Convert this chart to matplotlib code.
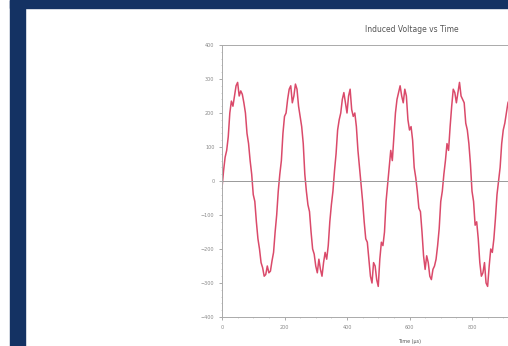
import matplotlib.pyplot as plt
from matplotlib.patches import Rectangle

# sample time (every 5 units) and the induced voltage
t_step = 5
voltage = [-20, 30, 70, 90, 130, 200, 235, 220, 250, 280, 290, 250, 265, 255, 230, 200, 140, 110, 60,
           20, -40, -60, -120, -170, -200, -240, -255, -280, -275, -250, -270, -265, -235, -210, -150, -100, -30, 20, 60,
           140, 190, 200, 240, 270, 280, 230, 250, 285, 270, 220, 190, 160, 110, 20, -30, -70, -90, -150, -200,
           -215, -250, -270, -230, -260, -280, -240, -210, -230, -190, -120, -70, -30, 30, 80, 150, 180, 200, 240, 260,
           230, 200, 250, 270, 210, 190, 200, 160, 90, 40, -10, -60, -120, -170, -180, -230, -280, -300, -240, -250,
           -290, -310, -230, -180, -190, -150, -60, -10, 40, 90, 60, 130, 200, 240, 260, 280, 250, 230, 270, 250,
           180, 150, 160, 120, 40, 10, -30, -80, -90, -150, -220, -260, -220, -240, -280, -290, -260, -250, -230, -190,
           -140, -60, -30, 20, 60, 110, 90, 160, 220, 270, 260, 230, 260, 290, 250, 240, 230, 170, 150, 110,
           50, -30, -60, -130, -120, -170, -240, -280, -270, -240, -300, -310, -250, -200, -210, -170, -110, -40, 0, 40,
           110, 150, 170, 200, 230, 240]
time = [i * t_step for i in range(len(voltage))]

x_ticks = [0, 200, 400, 600, 800]
y_ticks = [-400, -300, -200, -100, 0, 100, 200, 300, 400]

fig = plt.figure(figsize=(5.08, 3.46), dpi=100)
fig.patch.set_facecolor('white')

# navy frame on the page
navy = '#143263'
fig.patches.append(Rectangle((10/508, 0), 15/508, 1, transform=fig.transFigure, color=navy))
fig.patches.append(Rectangle((10/508, 1 - 8/346), 1, 8/346, transform=fig.transFigure, color=navy))

ax = fig.add_axes([222/508, 29/346, 375/508, 272/346])
ax.plot(time, voltage, color='#d42a50', lw=1.1, alpha=0.85)
ax.axhline(0, color='#999999', lw=0.7)

ax.set_xlim(0, 1200)
ax.set_ylim(-400, 400)
ax.set_xticks(x_ticks)
ax.set_yticks(y_ticks)
ax.minorticks_on()
for s in ax.spines.values():
    s.set_color('#aaaaaa')
    s.set_linewidth(0.7)
ax.tick_params(labelsize=3.5, colors='#888888', length=2, width=0.5)
ax.tick_params(which='minor', length=1, width=0.4, colors='#aaaaaa')

fig.text(412/508, 1 - 30/346, 'Induced Voltage vs Time', ha='center', va='center',
         fontsize=5.5, color='#555555')
fig.text(410/508, 1 - 341/346, 'Time (µs)', ha='center', va='center',
         fontsize=3.5, color='#555555')

fig.savefig('out.png', dpi=100)
